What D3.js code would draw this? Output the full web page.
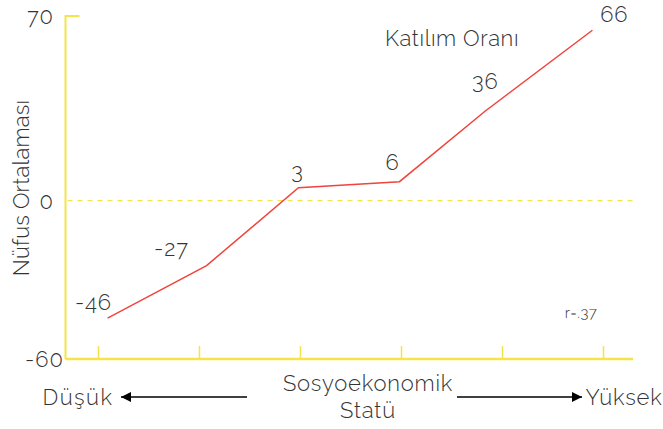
<!DOCTYPE html>
<html>
<head>
<meta charset="utf-8">
<script src="https://cdn.jsdelivr.net/npm/d3@7"></script>
<style>
  html, body { margin: 0; padding: 0; background: #fff; }
  svg text { font-family: Raleway, "Open Sans", Lato, "DejaVu Sans", sans-serif; font-weight: 300; fill: #333; }
</style>
</head>
<body>
<svg id="chart" width="663" height="429"></svg>
<script>
// ---- data ----
const statusPosition = [0.09, 1.07, 1.98, 2.98, 3.83, 4.89];
const participation = [-44.5, -24.6, 4.9, 7.2, 34, 64.6];
const pointLabels = ["-46", "-27", "3", "6", "36", "66"];
const yTickValues = [-60, 0, 70];
const xTickValues = [0, 1, 2, 3, 4, 5];
const seriesName = "Katılım Oranı";
const yTitle = "Nüfus Ortalaması";
const xTitle = ["Sosyoekonomik", "Statü"];
const lowLabel = "Düşük";
const highLabel = "Yüksek";
const corrLabel = "r=.37";

// ---- layout ----
const labelOffsets = [[-14, -16], [-35, -18], [-1, -17], [-7, -20], [0, -30], [22, -16]];
const svg = d3.select("#chart");
const yellow = "#f3e44a";
const red = "#f0443c";

const x = d3.scaleLinear().domain([0, 5]).range([98.5, 603.5]);
const y = d3.scaleLinear().domain([-60, 70]).range([359, 16]);
const axisX0 = 65.5, axisX1 = 633;

// y axis line + top tick
svg.append("path")
  .attr("d", `M${axisX0 + 14},${y(70)}H${axisX0}V${y(-60)}`)
  .attr("fill", "none").attr("stroke", yellow).attr("stroke-width", 2);

// x axis line
svg.append("line")
  .attr("x1", axisX0).attr("x2", axisX1)
  .attr("y1", y(-60)).attr("y2", y(-60))
  .attr("stroke", yellow).attr("stroke-width", 2.5);

// x ticks (upward)
svg.append("g").selectAll("line").data(xTickValues).join("line")
  .attr("x1", d => x(d)).attr("x2", d => x(d))
  .attr("y1", y(-60)).attr("y2", y(-60) - 13)
  .attr("stroke", yellow).attr("stroke-width", 1.5);

// zero dashed line
svg.append("line")
  .attr("x1", axisX0 + 2).attr("x2", axisX1)
  .attr("y1", y(0)).attr("y2", y(0))
  .attr("stroke", yellow).attr("stroke-width", 1.3)
  .attr("stroke-dasharray", "5,5");

// y tick labels
svg.append("g").selectAll("text").data(yTickValues).join("text")
  .attr("x", d => d === -60 ? 64 : 54)
  .attr("y", d => y(d))
  .attr("dy", "0.36em")
  .attr("text-anchor", "end")
  .attr("font-size", 22)
  .attr("letter-spacing", 1)
  .text(d => String(d));

// line
const line = d3.line().x((d, i) => x(statusPosition[i])).y(d => y(d));
svg.append("path")
  .datum(participation)
  .attr("d", line)
  .attr("fill", "none")
  .attr("stroke", red)
  .attr("stroke-width", 1.5);

// point labels
svg.append("g").selectAll("text").data(participation).join("text")
  .attr("x", (d, i) => x(statusPosition[i]) + labelOffsets[i][0])
  .attr("y", (d, i) => y(d) + labelOffsets[i][1])
  .attr("dy", "0.36em")
  .attr("text-anchor", "middle")
  .attr("font-size", 22)
  .attr("letter-spacing", 1)
  .text((d, i) => pointLabels[i]);

// series name
svg.append("text")
  .attr("x", 452).attr("y", 38).attr("dy", "0.36em")
  .attr("text-anchor", "middle").attr("font-size", 22)
  .attr("letter-spacing", 0.6)
  .text(seriesName);

// correlation
svg.append("text")
  .attr("x", 581).attr("y", 313).attr("dy", "0.36em")
  .attr("text-anchor", "middle").attr("font-size", 15)
  .attr("letter-spacing", 0.5)
  .text(corrLabel);

// y title
svg.append("text")
  .attr("transform", "translate(21,188) rotate(-90)")
  .attr("dy", "0.36em")
  .attr("text-anchor", "middle").attr("font-size", 22)
  .attr("letter-spacing", 0.2)
  .text(yTitle);

// x title
svg.append("g").selectAll("text").data(xTitle).join("text")
  .attr("x", 368).attr("y", (d, i) => 383 + i * 27)
  .attr("dy", "0.36em")
  .attr("text-anchor", "middle").attr("font-size", 22)
  .attr("letter-spacing", 0.8)
  .text(d => d);

// low / high
svg.append("text").attr("x", 78).attr("y", 397).attr("dy", "0.36em")
  .attr("text-anchor", "middle").attr("font-size", 22)
  .attr("letter-spacing", 1.5).text(lowLabel);
svg.append("text").attr("x", 624).attr("y", 397).attr("dy", "0.36em")
  .attr("text-anchor", "middle").attr("font-size", 22)
  .attr("letter-spacing", 0.8).text(highLabel);

// arrows
const defs = svg.append("defs");
defs.append("marker").attr("id", "ah")
  .attr("viewBox", "0 0 10 10").attr("refX", 10).attr("refY", 5)
  .attr("markerWidth", 12).attr("markerHeight", 10)
  .attr("markerUnits", "userSpaceOnUse")
  .attr("orient", "auto")
  .append("path").attr("d", "M0,0L10,5L0,10Z").attr("fill", "#000");

svg.append("line").attr("x1", 247).attr("x2", 121).attr("y1", 397).attr("y2", 397)
  .attr("stroke", "#000").attr("stroke-width", 1.5).attr("marker-end", "url(#ah)");
svg.append("line").attr("x1", 457).attr("x2", 582).attr("y1", 397).attr("y2", 397)
  .attr("stroke", "#000").attr("stroke-width", 1.5).attr("marker-end", "url(#ah)");
</script>
</body>
</html>
